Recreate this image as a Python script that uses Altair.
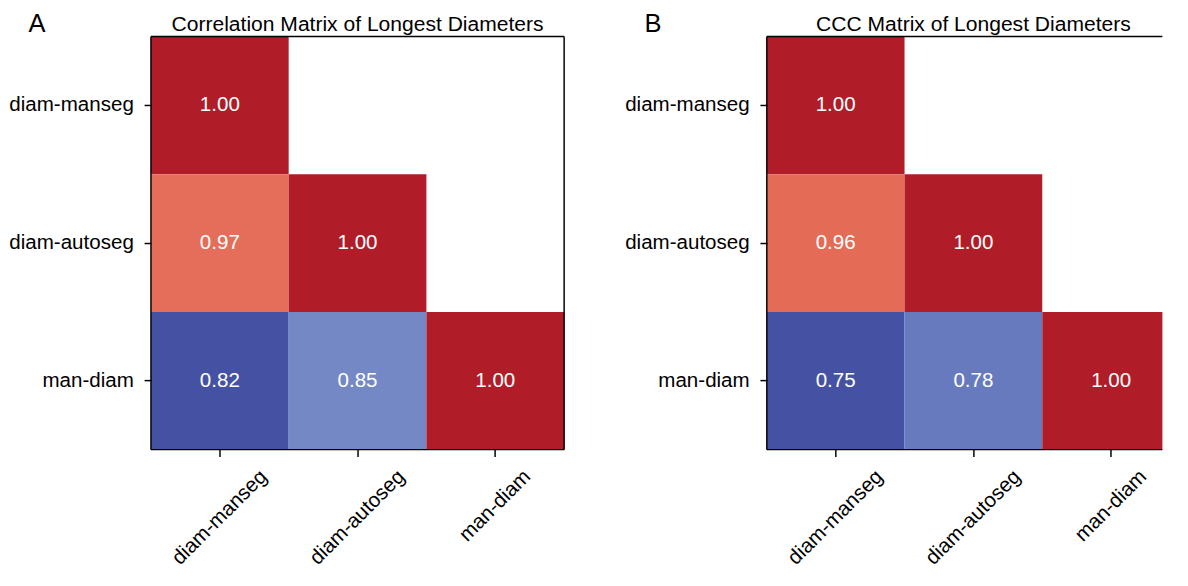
import altair as alt
import pandas as pd

categories = ["diam-manseg", "diam-autoseg", "man-diam"]
corr_rows = [[1.00], [0.97, 1.00], [0.82, 0.85, 1.00]]
ccc_rows = [[1.00], [0.96, 1.00], [0.75, 0.78, 1.00]]
titles = ["Correlation Matrix of Longest Diameters", "CCC Matrix of Longest Diameters"]
letters = ["A", "B"]

stop_pos = [0.0, 0.15, 0.5, 0.84, 1.0]
stop_colors = ["#4552a4", "#6f84c4", "#dcdcdc", "#e46c57", "#b01d28"]

FONT = "Liberation Sans"
H = 422
FULL = 422


def table(rows):
    recs = []
    for i, row in enumerate(rows):
        for j, v in enumerate(row):
            recs.append({"row": categories[i], "col": categories[j],
                         "value": v, "label": f"{v:.2f}"})
    return pd.DataFrame(recs)


def panel(rows, title, letter, width, right_border):
    df = table(rows)
    vmin = float(df["value"].min())
    domain = [vmin + p * (1 - vmin) for p in stop_pos]
    xaxis = alt.Axis(
        title=None, domain=False, grid=False, labelAngle=315,
        labelAlign="center", labelBaseline="middle",
        labelPadding={"condition": {"test": "datum.value === 'man-diam'", "value": 50}, "value": 62},
    )
    yaxis = alt.Axis(title=None, domain=False, grid=False, labelPadding=11)
    x = alt.X("col:N", sort=categories,
              scale=alt.Scale(domain=categories, range=[0, FULL], paddingInner=0, paddingOuter=0),
              axis=xaxis)
    y = alt.Y("row:N", sort=categories,
              scale=alt.Scale(domain=categories, paddingInner=0, paddingOuter=0),
              axis=yaxis)
    base = alt.Chart(df)
    rect = base.mark_rect(clip=True).encode(
        x=x, y=y,
        color=alt.Color("value:Q", legend=None,
                        scale=alt.Scale(domain=domain, range=stop_colors, interpolate="rgb")),
    )
    text = base.mark_text(clip=True, color="white", fontSize=21, font=FONT).encode(
        x=x, y=y, text="label:N")
    fdf = pd.DataFrame({"k": [0]})
    rule = alt.Chart(fdf).mark_rule(color="black", strokeWidth=1.5)
    layers = [
        rect, text,
        rule.encode(x=alt.value(0), x2=alt.value(width), y=alt.value(0)),
        rule.encode(x=alt.value(0), x2=alt.value(width), y=alt.value(H)),
        rule.encode(x=alt.value(0), y=alt.value(0), y2=alt.value(H)),
    ]
    if right_border:
        layers.append(rule.encode(x=alt.value(width), y=alt.value(0), y2=alt.value(H)))
    layers.append(
        alt.Chart(fdf).mark_text(text=letter, fontSize=26, font=FONT, align="left",
                                 baseline="alphabetic", color="black")
        .encode(x=alt.value(-125), y=alt.value(-5))
    )
    layers.append(
        alt.Chart(fdf).mark_text(text=title, fontSize=21.5, font=FONT, align="center",
                                 baseline="alphabetic", color="black")
        .encode(x=alt.value(FULL / 2), y=alt.value(-6))
    )
    return alt.layer(*layers).properties(width=width, height=H)


pa = panel(corr_rows, titles[0], letters[0], 422, True)
pb = panel(ccc_rows, titles[1], letters[1], 404, False)

chart = alt.hconcat(pa, pb, spacing=60).resolve_scale(color="independent").properties(
    padding={"top": -3, "bottom": 0, "left": 0, "right": 0}
).configure_view(stroke=None).configure_axis(
    labelFont=FONT, labelFontSize=21, labelColor="black",
    tickColor="black", tickWidth=1.5, tickSize=7,
)

chart.save("out.html", embed_options={"renderer": "svg", "actions": False})
